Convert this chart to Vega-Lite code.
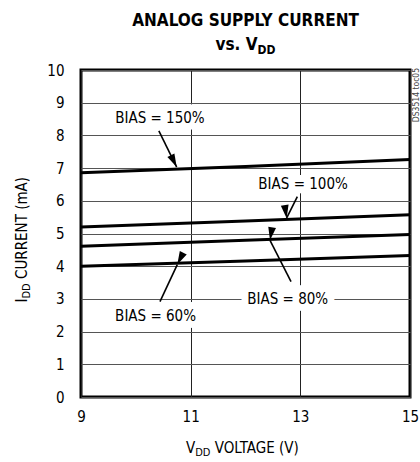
{
  "$schema": "https://vega.github.io/schema/vega-lite/v6.json",
  "width": 329,
  "height": 327,
  "autosize": {"type": "none"},
  "padding": {"left": 81, "top": 70, "right": 10, "bottom": 65},
  "background": "white",
  "config": {
    "view": {"stroke": "#000", "strokeWidth": 3},
    "font": "DejaVu Sans Condensed, sans-serif",
    "text": {"font": "DejaVu Sans Condensed, sans-serif", "color": "#000"}
  },
  "datasets": {
    "curves": [
      {"bias": "150%", "x": 9, "y": 6.86},
      {"bias": "150%", "x": 12, "y": 7.05},
      {"bias": "150%", "x": 15, "y": 7.26},
      {"bias": "100%", "x": 9, "y": 5.2},
      {"bias": "100%", "x": 12, "y": 5.38},
      {"bias": "100%", "x": 15, "y": 5.57},
      {"bias": "80%", "x": 9, "y": 4.61},
      {"bias": "80%", "x": 12, "y": 4.79},
      {"bias": "80%", "x": 15, "y": 4.97},
      {"bias": "60%", "x": 9, "y": 4.0},
      {"bias": "60%", "x": 12, "y": 4.16},
      {"bias": "60%", "x": 15, "y": 4.33}
    ],
    "labels": [
      {"bias": "150%", "text": "BIAS = 150%", "x": 10.44, "y": 8.53},
      {"bias": "100%", "text": "BIAS = 100%", "x": 13.05, "y": 6.52},
      {"bias": "80%", "text": "BIAS = 80%", "x": 12.77, "y": 3.01},
      {"bias": "60%", "text": "BIAS = 60%", "x": 10.36, "y": 2.49}
    ],
    "arrows": [
      {"bias": "150%", "x": 10.42, "y": 8.14, "x2": 10.745, "y2": 7.03},
      {"bias": "100%", "x": 12.945, "y": 6.125, "x2": 12.75, "y2": 5.47},
      {"bias": "80%", "x": 12.83, "y": 3.53, "x2": 12.447, "y2": 4.79},
      {"bias": "60%", "x": 10.44, "y": 2.914, "x2": 10.756, "y2": 4.05}
    ],
    "tips": [
      {"bias": "150%", "x": 10.745, "y": 7.03},
      {"bias": "100%", "x": 12.75, "y": 5.47},
      {"bias": "80%", "x": 12.447, "y": 4.79},
      {"bias": "60%", "x": 10.756, "y": 4.05}
    ]
  },
  "encoding": {
    "x": {"field": "x", "type": "quantitative", "scale": {"domain": [9, 15], "nice": false, "zero": false},
      "axis": {"values": [9, 11, 13, 15], "format": "d", "grid": true, "gridColor": "#222", "gridWidth": 1, "ticks": false, "domain": false, "labelFontSize": 15, "labelPadding": 12, "labelColor": "#000", "labelFlush": false, "labelOverlap": false, "title": null}},
    "y": {"field": "y", "type": "quantitative", "scale": {"domain": [0, 10], "nice": false, "zero": false},
      "axis": {"values": [0, 1, 2, 3, 4, 5, 6, 7, 8, 9, 10], "format": "d", "grid": true, "gridColor": "#555", "gridWidth": 1, "ticks": false, "domain": false, "labelFontSize": 15, "labelPadding": 17, "labelColor": "#000", "labelFlush": false, "labelOverlap": false, "title": null}}
  },
  "layer": [
    {
      "data": {"name": "labels"},
      "mark": {"type": "text", "fontSize": 15, "fill": "white", "stroke": "white", "strokeWidth": 14, "strokeJoin": "round", "baseline": "middle", "align": "center"},
      "encoding": {"text": {"field": "text"}}
    },
    {
      "data": {"name": "curves"},
      "mark": {"type": "line", "color": "#000", "strokeWidth": 3},
      "encoding": {"detail": {"field": "bias"}}
    },
    {
      "data": {"name": "arrows"},
      "mark": {"type": "rule", "color": "#000", "strokeWidth": 1.6},
      "encoding": {"x2": {"field": "x2"}, "y2": {"field": "y2"}}
    },
    {
      "data": {"name": "tips"},
      "mark": {"type": "point", "shape": "M0,0L0.65,2.2L-0.65,2.2Z", "filled": true, "color": "#000", "size": 144, "opacity": 1, "strokeWidth": 0},
      "encoding": {
        "angle": {"field": "bias", "type": "nominal", "scale": {"domain": ["150%", "100%", "80%", "60%"], "range": [154, 207, 333, 25]}, "legend": null}
      }
    },
    {
      "data": {"name": "labels"},
      "mark": {"type": "text", "fontSize": 15, "baseline": "middle", "align": "center", "color": "#000"},
      "encoding": {"text": {"field": "text"}}
    },
    {
      "data": {"values": [{"text": "ANALOG SUPPLY CURRENT", "x": 12, "y": 11.346}]},
      "mark": {"type": "text", "fontSize": 17, "fontWeight": "bold", "align": "center", "baseline": "alphabetic"},
      "encoding": {"text": {"field": "text"}}
    },
    {
      "data": {"values": [{"text": "vs. V", "x": 12.22, "y": 10.612}]},
      "mark": {"type": "text", "fontSize": 17, "fontWeight": "bold", "align": "right", "baseline": "alphabetic"},
      "encoding": {"text": {"field": "text"}}
    },
    {
      "data": {"values": [{"text": "DD", "x": 12.22, "y": 10.612}]},
      "mark": {"type": "text", "fontSize": 12, "fontWeight": "bold", "align": "left", "baseline": "alphabetic", "dy": 4},
      "encoding": {"text": {"field": "text"}}
    },
    {
      "data": {"values": [{"text": "V", "x": 11.36, "y": -1.713}]},
      "mark": {"type": "text", "fontSize": 15, "align": "right", "baseline": "alphabetic", "dx": -15.2},
      "encoding": {"text": {"field": "text"}}
    },
    {
      "data": {"values": [{"text": "DD", "x": 11.36, "y": -1.713}]},
      "mark": {"type": "text", "fontSize": 11, "align": "right", "baseline": "alphabetic", "dy": 3},
      "encoding": {"text": {"field": "text"}}
    },
    {
      "data": {"values": [{"text": "VOLTAGE (V)", "x": 11.36, "y": -1.713}]},
      "mark": {"type": "text", "fontSize": 15, "align": "left", "baseline": "alphabetic", "dx": 4.3},
      "encoding": {"text": {"field": "text"}}
    },
    {
      "data": {"values": [{"text": "I", "x": 8.02, "y": 3.477}]},
      "mark": {"type": "text", "fontSize": 15, "angle": 270, "align": "right", "baseline": "alphabetic", "dx": -15.2},
      "encoding": {"text": {"field": "text"}}
    },
    {
      "data": {"values": [{"text": "DD", "x": 8.02, "y": 3.477}]},
      "mark": {"type": "text", "fontSize": 11, "angle": 270, "align": "right", "baseline": "alphabetic", "dy": 3},
      "encoding": {"text": {"field": "text"}}
    },
    {
      "data": {"values": [{"text": "CURRENT (mA)", "x": 8.02, "y": 3.477}]},
      "mark": {"type": "text", "fontSize": 15, "angle": 270, "align": "left", "baseline": "alphabetic", "dx": 4.3},
      "encoding": {"text": {"field": "text"}}
    },
    {
      "data": {"values": [{"text": "DS3514 toc05", "x": 15.16, "y": 9.235}]},
      "mark": {"type": "text", "fontSize": 8.5, "angle": 270, "align": "center", "baseline": "alphabetic", "color": "#444"},
      "encoding": {"text": {"field": "text"}}
    }
  ]
}
